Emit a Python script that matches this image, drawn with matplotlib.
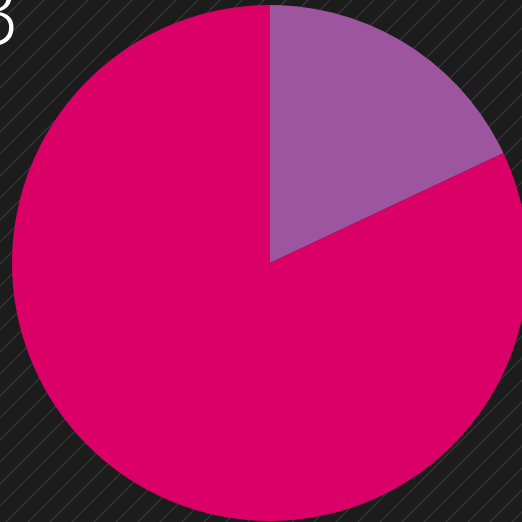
import matplotlib
matplotlib.use("Agg")
import matplotlib.pyplot as plt
import numpy as np

# slice data
labels = ["A", "B"]
values = [18, 82]
colors = ["#9d55a0", "#da0067"]
title_text = "3"

W = 522
fig = plt.figure(figsize=(5.22, 5.22), dpi=100)
fig.patch.set_facecolor("#1c1c1c")
ax = fig.add_axes([0, 0, 1, 1])
ax.set_facecolor("#1c1c1c")

# diagonal stripes in the background
for off in np.arange(-W, W * 2, 22):
    ax.plot([off, off + W], [0, W], color="#3a3a3a", lw=0.8, zorder=0)

ax.pie(values, colors=colors, startangle=90, counterclock=False,
       center=(270, W - 263), radius=258,
       wedgeprops=dict(linewidth=0), frame=True)

ax.text(20, W - 45, title_text, color="white", fontsize=64,
        family="Open Sans", fontweight="light", ha="right", va="baseline")

ax.set_xlim(0, W)
ax.set_ylim(0, W)
ax.set_aspect("equal")
ax.axis("off")

fig.savefig("out.png", dpi=100, facecolor=fig.get_facecolor())
